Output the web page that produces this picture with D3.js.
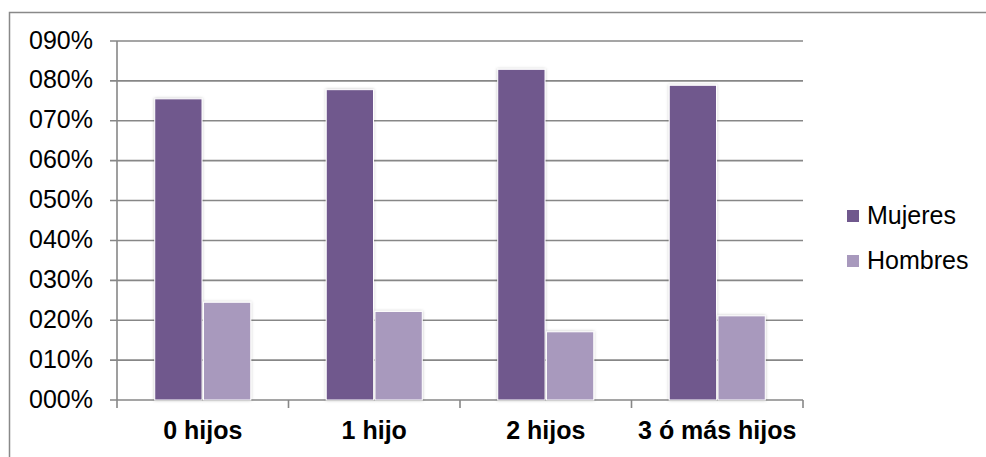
<!DOCTYPE html>
<html>
<head>
<meta charset="utf-8">
<script src="https://cdnjs.cloudflare.com/ajax/libs/d3/7.8.5/d3.min.js"></script>
<style>
  body { margin: 0; background: #fff; }
  svg { display: block; font-family: Arial, "Liberation Sans", sans-serif; }
</style>
</head>
<body>
<script>
// data
const categories = ["0 hijos", "1 hijo", "2 hijos", "3 ó más hijos"];
const seriesNames = ["Mujeres", "Hombres"];
const mujeres = [0.755, 0.778, 0.829, 0.789];
const hombres = [0.245, 0.222, 0.171, 0.211];
const yTicks = [0, 0.1, 0.2, 0.3, 0.4, 0.5, 0.6, 0.7, 0.8, 0.9];

const colors = {Mujeres: "#70588d", Hombres: "#a899bd"};

const W = 986, H = 457;
const margin = {top: 41, right: 183, bottom: 57, left: 117};
const width = W - margin.left - margin.right;
const height = H - margin.top - margin.bottom;

const svg = d3.select("body").append("svg")
  .attr("width", W)
  .attr("height", H);

// drop shadow for bars
const defs = svg.append("defs");
const f = defs.append("filter").attr("id", "shadow")
  .attr("x", "-20%").attr("y", "-10%").attr("width", "140%").attr("height", "120%");
f.append("feDropShadow").attr("dx", 0).attr("dy", 0).attr("stdDeviation", 1.5)
  .attr("flood-color", "#000").attr("flood-opacity", 0.25);

// outer border (right and bottom run off the picture)
svg.append("rect")
  .attr("x", 9.5).attr("y", 12.5)
  .attr("width", 1000).attr("height", 500)
  .attr("fill", "none")
  .attr("stroke", "#898989")
  .attr("stroke-width", 1.5);

const g = svg.append("g")
  .attr("transform", `translate(${margin.left},${margin.top})`);

const x0 = d3.scaleBand()
  .domain(categories)
  .range([0, width])
  .paddingInner(0.44)
  .paddingOuter(0.22);

const x1 = d3.scaleBand()
  .domain(seriesNames)
  .range([0, x0.bandwidth()])
  .paddingInner(0.03);

const y = d3.scaleLinear()
  .domain([0, 0.9])
  .range([height, 0]);

// gridlines
g.append("g")
  .selectAll("line")
  .data(yTicks)
  .join("line")
  .attr("x1", -7)
  .attr("x2", width)
  .attr("y1", d => y(d))
  .attr("y2", d => y(d))
  .attr("stroke", "#878787")
  .attr("stroke-width", 1.6);

// y axis labels
const yFmt = d => String(Math.round(d * 100)).padStart(3, "0") + "%";
g.append("g")
  .selectAll("text")
  .data(yTicks)
  .join("text")
  .attr("x", -24)
  .attr("y", d => y(d) + 7.5)
  .attr("text-anchor", "end")
  .attr("font-size", 25)
  .attr("fill", "#000")
  .text(yFmt);

// y axis line
g.append("line")
  .attr("x1", 0).attr("x2", 0)
  .attr("y1", 0).attr("y2", height)
  .attr("stroke", "#878787")
  .attr("stroke-width", 1.6);

// x axis ticks (category boundaries)
const bounds = categories.map(c => x0(c) - x0.step() * x0.paddingInner() / 2);
bounds.push(width);
bounds[0] = 0;
g.append("g")
  .selectAll("line")
  .data(bounds)
  .join("line")
  .attr("x1", d => d).attr("x2", d => d)
  .attr("y1", height).attr("y2", height + 8)
  .attr("stroke", "#878787")
  .attr("stroke-width", 1.6);

// bars
const rows = categories.map((c, i) => ({cat: c, Mujeres: mujeres[i], Hombres: hombres[i]}));
const groups = g.append("g")
  .selectAll("g")
  .data(rows)
  .join("g")
  .attr("transform", d => `translate(${x0(d.cat)},0)`);

groups.selectAll("rect")
  .data(d => seriesNames.map(k => ({key: k, value: d[k]})))
  .join("rect")
  .attr("x", d => x1(d.key))
  .attr("y", d => y(d.value))
  .attr("width", x1.bandwidth())
  .attr("height", d => height - y(d.value))
  .attr("fill", d => colors[d.key])
  .attr("stroke", "#fff")
  .attr("stroke-width", 1)
  .attr("filter", "url(#shadow)");

// category labels
g.append("g")
  .selectAll("text")
  .data(categories)
  .join("text")
  .attr("x", d => x0(d) + x0.bandwidth() / 2)
  .attr("y", height + 39)
  .attr("text-anchor", "middle")
  .attr("font-size", 25)
  .attr("font-weight", "bold")
  .attr("fill", "#000")
  .text(d => d);

// legend
const legend = svg.append("g")
  .attr("transform", "translate(847,210)");
const li = legend.selectAll("g")
  .data(seriesNames)
  .join("g")
  .attr("transform", (d, i) => `translate(0,${i * 45})`);
li.append("rect")
  .attr("width", 12).attr("height", 12)
  .attr("fill", d => colors[d]);
li.append("text")
  .attr("x", 20)
  .attr("y", 14)
  .attr("font-size", 25)
  .attr("fill", "#000")
  .text(d => d);
</script>
</body>
</html>
